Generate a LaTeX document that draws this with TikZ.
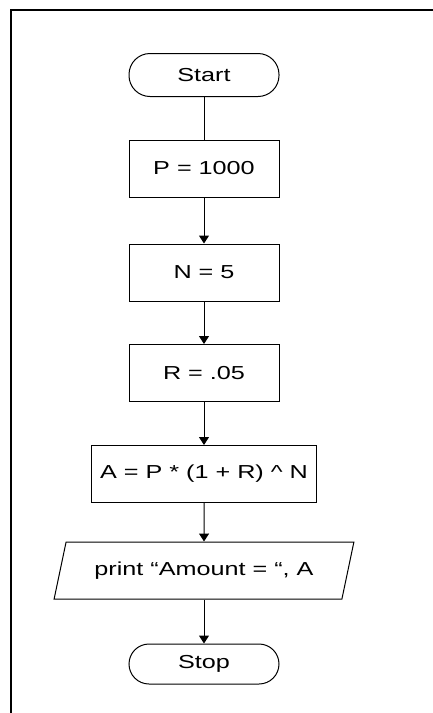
\documentclass[tikz,border=0pt]{standalone}
\usepackage{fontspec}
\setmainfont[FakeStretch=1.34]{Liberation Sans}
\usetikzlibrary{arrows.meta,shapes.geometric}

\begin{document}
\begin{tikzpicture}[x=1pt, y=-1pt, font=\fontsize{18.8}{22}\selectfont,
        terminal/.style={draw, line width=1pt, rounded corners=21pt, minimum width=150pt, minimum height=43pt, inner sep=0pt},
        process/.style={draw, line width=1pt, minimum width=150pt, minimum height=57pt, inner sep=0pt},
        io/.style={draw, line width=1pt, trapezium, trapezium left angle=61.5, trapezium right angle=118.5,
            trapezium stretches=true, minimum width=300pt, minimum height=57pt, inner sep=0pt},
        flow/.style={line width=1pt, -{Triangle[length=8pt, width=10pt]}}]
        \useasboundingbox (0,0) rectangle (433,713);
        \draw[line width=2.5pt] (11,713) -- (11,10) -- (433,10);

        \node[terminal] (start) at (204, 75) {Start};
        \node[process] (p) at (204, 168.5) {P = 1000};
        \node[process] (n) at (204, 272.5) {N = 5};
        \node[process] (r) at (204, 373) {R = .05};
        \node[process, minimum width=225pt] (a) at (204, 474) {A = P * (1 + R) \^{} N};
        \node[io] (print) at (204, 570.5) {print “Amount = “, A};
        \node[terminal, minimum height=40pt, rounded corners=20pt] (stop) at (204, 664) {Stop};

        \draw[line width=1pt] (start) -- (p);
        \draw[flow] (p) -- (n);
        \draw[flow] (n) -- (r);
        \draw[flow] (r) -- (a);
        \draw[flow] (a) -- (print);
        \draw[flow] (print) -- (stop);
    \end{tikzpicture}
\end{document}
